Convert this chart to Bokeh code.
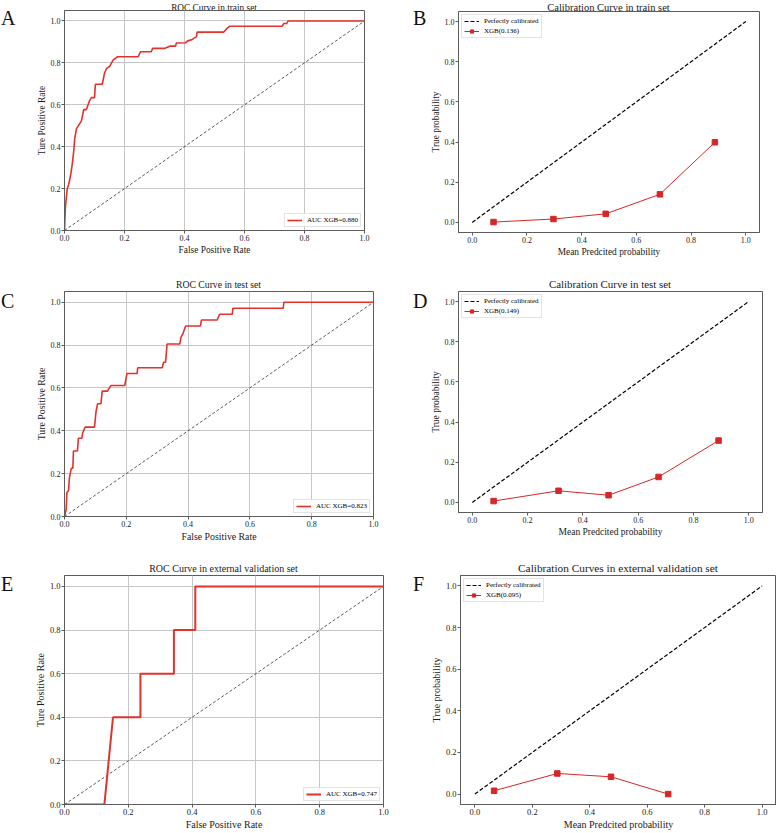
from bokeh.plotting import figure
from bokeh.layouts import column, row
from bokeh.models import Range1d, FixedTicker, Legend, LegendItem, PrintfTickFormatter, Div
from bokeh.embed import file_html
from bokeh.resources import INLINE

# ---------------- data ----------------
tick_values = [0.0, 0.2, 0.4, 0.6, 0.8, 1.0]
tick_labels = ["0.0", "0.2", "0.4", "0.6", "0.8", "1.0"]
diag = [0.0, 1.0]

roc_train_fpr = [0.0, 0.003, 0.009, 0.014, 0.020, 0.026, 0.031, 0.034, 0.040, 0.047, 0.056, 0.059,
                 0.064, 0.073, 0.078, 0.084, 0.090, 0.100, 0.103, 0.126, 0.133, 0.140, 0.151, 0.162,
                 0.176, 0.246, 0.253, 0.289, 0.294, 0.333, 0.353, 0.370, 0.373, 0.403, 0.411, 0.426,
                 0.440, 0.442, 0.531, 0.542, 0.551, 0.726, 0.731, 0.741, 0.745, 1.0]
roc_train_tpr = [0.0, 0.110, 0.198, 0.220, 0.260, 0.318, 0.382, 0.438, 0.486, 0.502, 0.522, 0.541,
                 0.577, 0.577, 0.598, 0.621, 0.634, 0.634, 0.698, 0.698, 0.749, 0.773, 0.784, 0.813,
                 0.829, 0.829, 0.853, 0.853, 0.869, 0.869, 0.880, 0.880, 0.895, 0.896, 0.905, 0.912,
                 0.925, 0.947, 0.947, 0.965, 0.975, 0.975, 0.988, 0.988, 1.0, 1.0]
roc_train_label = "AUC XGB=0.880"

roc_test_fpr = [0.0, 0.0055, 0.0077, 0.013, 0.016, 0.022, 0.027, 0.029, 0.042, 0.045, 0.056, 0.059,
                0.067, 0.097, 0.102, 0.107, 0.118, 0.122, 0.139, 0.150, 0.195, 0.202, 0.235, 0.237,
                0.316, 0.321, 0.327, 0.332, 0.373, 0.377, 0.384, 0.392, 0.440, 0.443, 0.494, 0.502,
                0.543, 0.545, 0.708, 0.710, 1.0]
roc_test_tpr = [0.0, 0.034, 0.112, 0.120, 0.181, 0.225, 0.225, 0.306, 0.306, 0.365, 0.365, 0.391,
                0.417, 0.417, 0.490, 0.526, 0.526, 0.585, 0.585, 0.611, 0.611, 0.667, 0.667, 0.694,
                0.694, 0.720, 0.720, 0.805, 0.805, 0.836, 0.856, 0.889, 0.889, 0.917, 0.917, 0.944,
                0.944, 0.972, 0.972, 1.0, 1.0]
roc_test_label = "AUC XGB=0.823"

roc_ext_fpr = [0.0, 0.125, 0.152, 0.238, 0.238, 0.343, 0.343, 0.410, 0.410, 1.0]
roc_ext_tpr = [0.0, 0.0, 0.4, 0.4, 0.6, 0.6, 0.8, 0.8, 1.0, 1.0]
roc_ext_label = "AUC XGB=0.747"

cal_train_pred = [0.078, 0.297, 0.488, 0.686, 0.887]
cal_train_true = [0.002, 0.017, 0.043, 0.140, 0.399]
cal_train_label = "XGB(0.136)"

cal_test_pred = [0.077, 0.312, 0.493, 0.674, 0.891]
cal_test_true = [0.007, 0.058, 0.036, 0.127, 0.308]
cal_test_label = "XGB(0.149)"

cal_ext_pred = [0.067, 0.287, 0.474, 0.673]
cal_ext_true = [0.016, 0.099, 0.083, 0.0]
cal_ext_label = "XGB(0.095)"

perfect_label = "Perfectly calibrated"

# ---------------- styling / layout ----------------
FONT = "Liberation Serif"
FRAME = "#5c5c5c"
TEXT = "#1a1a1a"
ROC_RED = "#e3312b"
CAL_RED = "#d62728"
COLS = [0, 390, 776]
ROWS = [0, 266, 551, 832]
LETTER_W = [18, 36]
TOP_GAP = 2
TITLE_SHIFT = [-1, -3, -3]


def letter_div(col, rw, letter, left, top):
    h = ROWS[rw + 1] - ROWS[rw]
    html = ('<div style="position:relative; left:%dpx; top:%dpx; font-family:\'%s\'; '
            'font-size:20px; line-height:20px; color:#111; white-space:nowrap;">%s</div>'
            % (left, top, FONT, letter))
    return Div(text=html, width=LETTER_W[col], height=h, margin=(0, 0, 0, 0))


def make_panel(col, rw, frame, xr, yr, grid, xlabel, ylabel, tick_fs, label_fs,
               title, title_fs, title_base):
    x0, x1 = COLS[col] + LETTER_W[col], COLS[col + 1]
    y0, y1 = ROWS[rw], ROWS[rw + 1]
    fl, ft, fr, fb = (int(round(v)) for v in frame)
    div_h = ft - y0 - TOP_GAP
    fs = float(title_fs.replace("px", ""))
    t_top = (title_base - y0) - 0.8375 * fs + TITLE_SHIFT[rw]
    html = ('<div style="position:relative; left:%dpx; top:%.1fpx; width:%dpx; text-align:center; '
            'font-family:\'%s\'; font-size:%s; line-height:%s; color:%s; white-space:nowrap;">%s</div>'
            % (fl - x0, t_top, fr - fl, FONT, title_fs, title_fs, TEXT, title))
    tdiv = Div(text=html, width=x1 - x0, height=div_h, margin=(0, 0, 0, 0))
    p = figure(width=x1 - x0, height=y1 - y0 - div_h, title=None,
               x_range=Range1d(*xr), y_range=Range1d(*yr),
               output_backend="svg", toolbar_location=None, tools="",
               min_border_left=fl - x0, min_border_right=max(x1 - fr, 0),
               min_border_top=TOP_GAP, min_border_bottom=y1 - fb)
    p.background_fill_color = "white"
    p.border_fill_color = "white"
    p.border_fill_alpha = 0.0
    p.outline_line_color = FRAME
    p.outline_line_width = 1
    for ax in (p.xaxis[0], p.yaxis[0]):
        ax.ticker = FixedTicker(ticks=tick_values)
        ax.formatter = PrintfTickFormatter(format="%.1f")
        ax.major_label_overrides = dict(zip(tick_values, tick_labels))
        ax.axis_line_color = FRAME
        ax.major_tick_line_color = FRAME
        ax.major_tick_out = 3
        ax.major_tick_in = 0
        ax.minor_tick_line_color = None
        ax.major_label_text_font = FONT
        ax.major_label_text_font_size = tick_fs
        ax.major_label_text_color = TEXT
        ax.axis_label_text_font = FONT
        ax.axis_label_text_font_size = label_fs
        ax.axis_label_text_font_style = "normal"
        ax.axis_label_text_color = TEXT
    p.xaxis[0].axis_label = xlabel
    p.yaxis[0].axis_label = ylabel
    p.xaxis[0].major_label_standoff = 1
    p.xaxis[0].axis_label_standoff = 1
    p.yaxis[0].major_label_standoff = 1
    p.yaxis[0].axis_label_standoff = 1
    if grid:
        p.grid.grid_line_color = "#c6c6c6"
        p.grid.grid_line_width = 1
    else:
        p.grid.grid_line_color = None
    return column(tdiv, p, spacing=0), p


def style_legend(leg, nrows):
    leg.label_text_font = FONT
    leg.label_text_font_size = "7px"
    leg.label_text_color = "black"
    leg.glyph_width = 15
    leg.glyph_height = 8
    leg.label_height = 8
    leg.label_standoff = 5
    leg.padding = 2
    leg.spacing = 2 if nrows > 1 else 0
    leg.margin = 3
    leg.border_line_color = "#c8c8c8"
    leg.border_line_width = 1
    leg.background_fill_alpha = 0.85


def roc_panel(col, rw, frame, fpr, tpr, label, title, title_fs, title_base, tick_fs, label_fs, lw):
    box, p = make_panel(col, rw, frame, (0.0, 1.0), (0.0, 1.05), True,
                        "False Positive Rate", "Ture Positive Rate", tick_fs, label_fs,
                        title, title_fs, title_base)
    p.line(diag, diag, line_color="#333333", line_width=0.8, line_dash="3 2")
    r = p.line(fpr, tpr, line_color=ROC_RED, line_width=lw)
    leg = Legend(items=[LegendItem(label=label, renderers=[r])], location="bottom_right")
    style_legend(leg, 1)
    p.add_layout(leg)
    return box


def cal_panel(col, rw, frame, pred, true, label, title, title_fs, title_base, tick_fs, label_fs):
    box, p = make_panel(col, rw, frame, (-0.05, 1.05), (-0.05, 1.05), False,
                        "Mean Predcited probability", "True probability", tick_fs, label_fs,
                        title, title_fs, title_base)
    rd = p.line(diag, diag, line_color="black", line_width=1.2, line_dash="4 2")
    rl = p.line(pred, true, line_color=CAL_RED, line_width=1)
    rs = p.scatter(pred, true, marker="square", size=5.5, fill_color=CAL_RED, line_color=CAL_RED)
    leg = Legend(items=[LegendItem(label=perfect_label, renderers=[rd]),
                        LegendItem(label=label, renderers=[rl, rs])], location="top_left")
    style_legend(leg, 2)
    p.add_layout(leg)
    return box


pA = roc_panel(0, 0, (64, 10, 364.3, 230), roc_train_fpr, roc_train_tpr, roc_train_label,
               "ROC Curve in train set", "9.3px", 7.5, "8px", "9.4px", 1.6)
pB = cal_panel(1, 0, (458.3, 11, 759.3, 231.7), cal_train_pred, cal_train_true, cal_train_label,
               "Calibration Curve in train set", "10.5px", 8.3, "8px", "9.4px")
pC = roc_panel(0, 1, (64.3, 290.7, 373.3, 515.7), roc_test_fpr, roc_test_tpr, roc_test_label,
               "ROC Curve in test set", "9.7px", 287.3, "8px", "9.8px", 1.6)
pD = cal_panel(1, 1, (458.3, 290.7, 762.3, 512.3), cal_test_pred, cal_test_true, cal_test_label,
               "Calibration Curve in test set", "10.9px", 288.3, "8px", "9.5px")
pE = roc_panel(0, 2, (64.5, 575, 383.3, 807.3), roc_ext_fpr, roc_ext_tpr, roc_ext_label,
               "ROC Curve in external validation set", "10px", 571.7, "8.5px", "10px", 2.0)
pF = cal_panel(1, 2, (460, 575, 776, 807.3), cal_ext_pred, cal_ext_true, cal_ext_label,
               "Calibration Curves in external validation set", "11.3px", 572.7, "8.5px", "10px")

dA = letter_div(0, 0, "A", 1, 8)
dB = letter_div(1, 0, "B", 23, 8)
dC = letter_div(0, 1, "C", 1, 25)
dD = letter_div(1, 1, "D", 23, 25)
dE = letter_div(0, 2, "E", 1, 23)
dF = letter_div(1, 2, "F", 23, 23)

layout = column(row(dA, pA, dB, pB), row(dC, pC, dD, pD), row(dE, pE, dF, pF))

with open("out.html", "w") as f:
    f.write(file_html(layout, INLINE))
